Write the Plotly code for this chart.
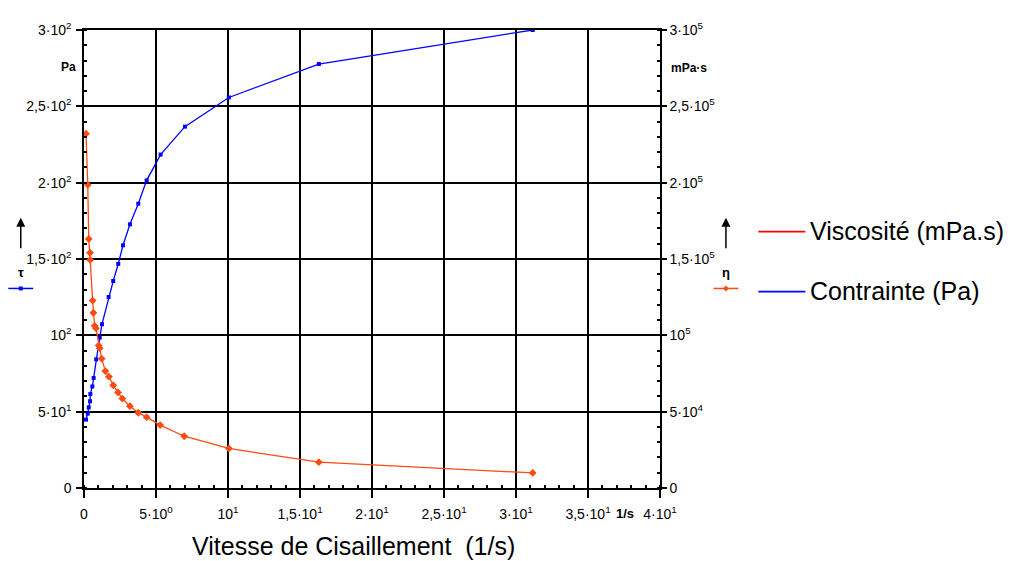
import plotly.graph_objects as go

# ---------------- data ----------------
shear_stress_x = [0.14, 0.26, 0.33, 0.42, 0.44, 0.58, 0.67, 0.85, 1.09, 1.25, 1.71,
                  2.03, 2.38, 2.71, 3.19, 3.77, 4.35, 5.32, 7.01, 10.06, 16.31, 31.16]
contrainte_pa = [44.8, 48.7, 52.8, 56.8, 61.5, 66.5, 72.1, 84.3, 98.5, 107.3, 125.1,
                 135.6, 146.8, 159.0, 172.7, 186.2, 201.5, 218.4, 236.7, 255.8, 277.7, 300.0]

visc_x = [0.14, 0.26, 0.33, 0.42, 0.43, 0.60, 0.65, 0.74, 0.83, 1.02, 1.09, 1.23, 1.48,
          1.73, 2.03, 2.36, 2.66, 3.19, 3.77, 4.35, 5.29, 6.96, 10.06, 16.31, 31.16]
viscosite_mpas = [232100, 198500, 163100, 154100, 149400, 122800, 114800, 106200, 104700,
                  93400, 91600, 84700, 76600, 72900, 67300, 62600, 58600, 53600, 49300,
                  46400, 41200, 33900, 25900, 16900, 9850]

x_tickvals = [0, 5, 10, 15, 20, 25, 30, 35, 40]
x_ticktext = ["0", "5·10<sup>0</sup>", "10<sup>1</sup>", "1,5·10<sup>1</sup>", "2·10<sup>1</sup>",
              "2,5·10<sup>1</sup>", "3·10<sup>1</sup>", "3,5·10<sup>1</sup>", "4·10<sup>1</sup>"]
y_tickvals = [0, 50, 100, 150, 200, 250, 300]
y_ticktext = ["0", "5·10<sup>1</sup>", "10<sup>2</sup>", "1,5·10<sup>2</sup>", "2·10<sup>2</sup>",
              "2,5·10<sup>2</sup>", "3·10<sup>2</sup>"]
y2_tickvals = [0, 50000, 100000, 150000, 200000, 250000, 300000]
y2_ticktext = ["0", "5·10<sup>4</sup>", "10<sup>5</sup>", "1,5·10<sup>5</sup>", "2·10<sup>5</sup>",
               "2,5·10<sup>5</sup>", "3·10<sup>5</sup>"]

BLUE = "#0000FF"
ORANGE = "#FF4A12"
FONT = "Liberation Sans, Arial, sans-serif"

# page offset (body margin) and plot-area pixel geometry in page coordinates
OFF = 8
L, R, T, B = 84, 660.5, 23.3, 488.3
W, H = 1019 - OFF, 561 - OFF


def px(x):
    return (x - L) / (R - L)


def py(y):
    return (B - y) / (B - T)


fig = go.Figure()
fig.add_trace(go.Scatter(x=shear_stress_x, y=contrainte_pa, mode="lines+markers",
                         line=dict(color=BLUE, width=1.3),
                         marker=dict(symbol="square", size=4, color=BLUE),
                         name="Contrainte (Pa)", showlegend=False))
fig.add_trace(go.Scatter(x=visc_x, y=viscosite_mpas, mode="lines+markers", yaxis="y2",
                         line=dict(color=ORANGE, width=1.3),
                         marker=dict(symbol="diamond", size=6, color=ORANGE),
                         name="Viscosité (mPa.s)", showlegend=False))

axis_common = dict(showline=True, linecolor="black", linewidth=1.5,
                   tickfont=dict(family=FONT, size=14, color="black"),
                   tickcolor="black", tickwidth=1.5, zeroline=False)

fig.update_layout(
    width=W, height=H,
    margin=dict(l=L - OFF, r=W - (R - OFF), t=T - OFF, b=H - (B - OFF), pad=0),
    paper_bgcolor="white", plot_bgcolor="white",
    font=dict(family=FONT, color="black"),
    xaxis=dict(range=[0, 40], tickvals=x_tickvals, ticktext=x_ticktext,
               ticks="outside", ticklen=8, mirror=True, ticklabelstandoff=4,
               showgrid=True, gridcolor="black", gridwidth=1.5,
               minor=dict(dtick=1, ticks="inside", ticklen=3, tickcolor="black", showgrid=False),
               **axis_common),
    yaxis=dict(range=[0, 300], tickvals=y_tickvals, ticktext=y_ticktext,
               ticks="outside", ticklen=6, ticklabelstandoff=2,
               showgrid=True, gridcolor="black", gridwidth=1.5,
               minor=dict(dtick=10, ticks="inside", ticklen=3, tickcolor="black", showgrid=False),
               **axis_common),
    yaxis2=dict(range=[0, 300000], tickvals=y2_tickvals, ticktext=y2_ticktext,
                overlaying="y", side="right", ticks="outside", ticklen=5,
                showgrid=False,
                minor=dict(dtick=10000, ticks="inside", ticklen=3, tickcolor="black", showgrid=False),
                **axis_common),
)

ann = []
shapes = []

# axis unit labels
ann.append(dict(x=px(68), y=py(61), xref="paper", yref="paper", text="<b>Pa</b>",
                xanchor="center", yanchor="middle",
                showarrow=False, font=dict(size=12, family=FONT)))
ann.append(dict(x=px(690), y=py(62), xref="paper", yref="paper", text="<b>mPa·s</b>",
                xanchor="center", yanchor="middle",
                showarrow=False, font=dict(size=12, family=FONT)))
ann.append(dict(x=px(625), y=py(514), xref="paper", yref="paper", text="<b>1/s</b>",
                xanchor="center", yanchor="middle",
                showarrow=False, font=dict(size=13, family=FONT)))

# x-axis title
ann.append(dict(x=px(354), y=py(547), xref="paper", yref="paper",
                text="Vitesse de Cisaillement  (1/s)", showarrow=False,
                xanchor="center", yanchor="middle",
                font=dict(size=25, family=FONT)))

# side arrows and symbols
for ax_x, sym, col, mk in [(20.7, "τ", BLUE, "sq"), (726.5, "η", ORANGE, "di")]:
    ann.append(dict(x=px(ax_x), y=py(214), xref="paper", yref="paper", text="",
                    showarrow=True, arrowhead=2, arrowsize=1.2, arrowwidth=1.5,
                    arrowcolor="black", ax=0, ay=32))
    ann.append(dict(x=px(ax_x), y=py(270), xref="paper", yref="paper", text="<b>" + sym + "</b>",
                    xanchor="center", yanchor="middle",
                    showarrow=False, font=dict(size=13, family=FONT)))
    shapes.append(dict(type="line", xref="paper", yref="paper",
                       x0=px(ax_x - 12.5), x1=px(ax_x + 12.5), y0=py(285.7), y1=py(285.7),
                       line=dict(color=col, width=1.5)))
    if mk == "sq":
        shapes.append(dict(type="rect", xref="paper", yref="paper",
                           x0=px(ax_x - 2), x1=px(ax_x + 2), y0=py(287.7), y1=py(283.7),
                           fillcolor=col, line=dict(width=0)))
    else:
        cx, cy = ax_x, 285.7
        path = "M {} {} L {} {} L {} {} L {} {} Z".format(
            px(cx), py(cy - 3), px(cx + 3), py(cy), px(cx), py(cy + 3), px(cx - 3), py(cy))
        shapes.append(dict(type="path", xref="paper", yref="paper", path=path,
                           fillcolor=col, line=dict(width=0)))

# legend
for y_leg, col, label in [(228, "#FF0000", "Viscosité (mPa.s)"), (289, BLUE, "Contrainte (Pa)")]:
    shapes.append(dict(type="line", xref="paper", yref="paper",
                       x0=px(759), x1=px(806), y0=py(y_leg), y1=py(y_leg),
                       line=dict(color=col, width=1.8)))
    ann.append(dict(x=px(809), y=py(y_leg - 1), xref="paper", yref="paper", text=label,
                    xanchor="left", yanchor="middle", showarrow=False,
                    font=dict(size=25, family=FONT)))

fig.update_layout(annotations=ann, shapes=shapes)
fig.write_html("out.html")
